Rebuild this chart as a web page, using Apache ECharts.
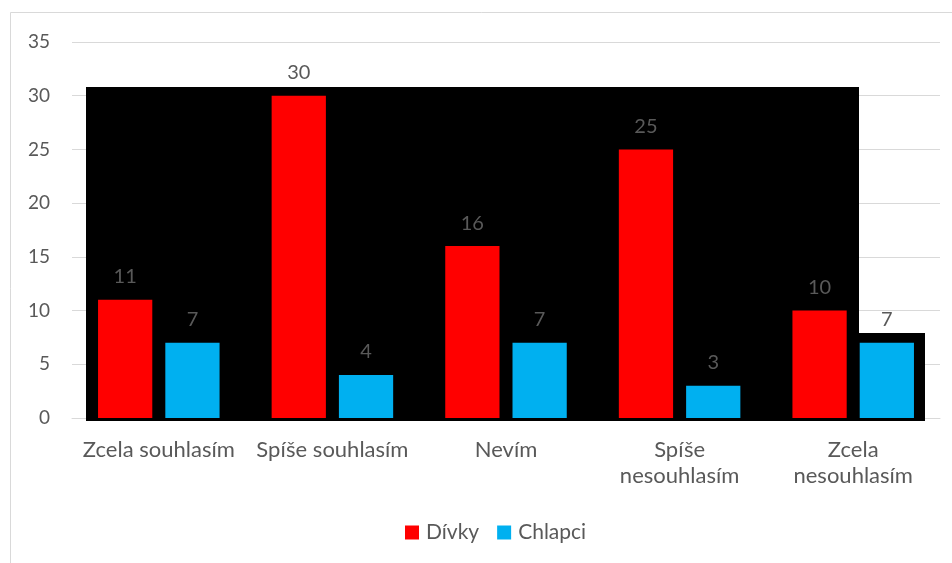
<!DOCTYPE html>
<html>
<head>
<meta charset="utf-8">
<script src="https://cdn.jsdelivr.net/npm/echarts@6/dist/echarts.min.js"></script>
<style>
  html, body { margin: 0; padding: 0; background: #fff; }
  #chart { width: 952px; height: 563px; }
</style>
</head>
<body>
<div id="chart"></div>
<script>
// Survey answers by gender
var categories = ['Zcela souhlasím', 'Spíše souhlasím', 'Nevím', 'Spíše\nnesouhlasím', 'Zcela\nnesouhlasím'];
var seriesNames = ['Dívky', 'Chlapci'];
var divky = [11, 30, 16, 25, 10];
var chlapci = [7, 4, 7, 3, 7];
var yTicks = { min: 0, max: 35, interval: 5 };

var FONT = 'Lato, "Open Sans", sans-serif';
var TEXT = '#595959';

var chart = echarts.init(document.getElementById('chart'), null, { renderer: 'canvas' });

var labelStyle = {
  show: true,
  position: 'top',
  distance: 13,
  color: TEXT,
  fontFamily: FONT,
  fontSize: 20
};

chart.setOption({
  animation: false,
  backgroundColor: '#ffffff',
  grid: { left: 72, right: 12, top: 42, bottom: 145, containLabel: false },
  graphic: [
    // outer chart frame
    { type: 'rect', z: 0, silent: true,
      shape: { x: 10.5, y: 12.5, width: 960, height: 600 },
      style: { fill: 'none', stroke: '#d9d9d9', lineWidth: 1 } },
    // dark backdrop behind the bars
    { type: 'rect', z: 1, silent: true,
      shape: { x: 86, y: 87, width: 773, height: 334 },
      style: { fill: '#000000' } },
    { type: 'rect', z: 1, silent: true,
      shape: { x: 845, y: 333, width: 80, height: 88 },
      style: { fill: '#000000' } }
  ],
  legend: {
    data: seriesNames,
    bottom: 15,
    left: 400,
    itemWidth: 14,
    itemHeight: 14,
    itemGap: 18,
    icon: 'rect',
    textStyle: { color: TEXT, fontFamily: FONT, fontSize: 21, padding: [0, 0, 0, 2] }
  },
  xAxis: {
    type: 'category',
    data: categories,
    axisTick: { show: false },
    axisLine: { show: true, lineStyle: { color: '#d9d9d9', width: 1 } },
    axisLabel: {
      color: TEXT, fontFamily: FONT, fontSize: 22, lineHeight: 26,
      margin: 19, interval: 0
    }
  },
  yAxis: {
    type: 'value',
    min: yTicks.min,
    max: yTicks.max,
    interval: yTicks.interval,
    axisLine: { show: false },
    axisTick: { show: false },
    splitLine: { lineStyle: { color: '#d9d9d9', width: 1 } },
    axisLabel: { color: TEXT, fontFamily: FONT, fontSize: 19, margin: 22 }
  },
  series: [
    {
      name: seriesNames[0],
      type: 'bar',
      z: 3,
      data: divky,
      barGap: '24%',
      barCategoryGap: '30%',
      itemStyle: { color: '#ff0000' },
      label: labelStyle
    },
    {
      name: seriesNames[1],
      type: 'bar',
      z: 3,
      data: chlapci,
      itemStyle: { color: '#00b0f0' },
      label: labelStyle
    }
  ]
});
</script>
</body>
</html>
